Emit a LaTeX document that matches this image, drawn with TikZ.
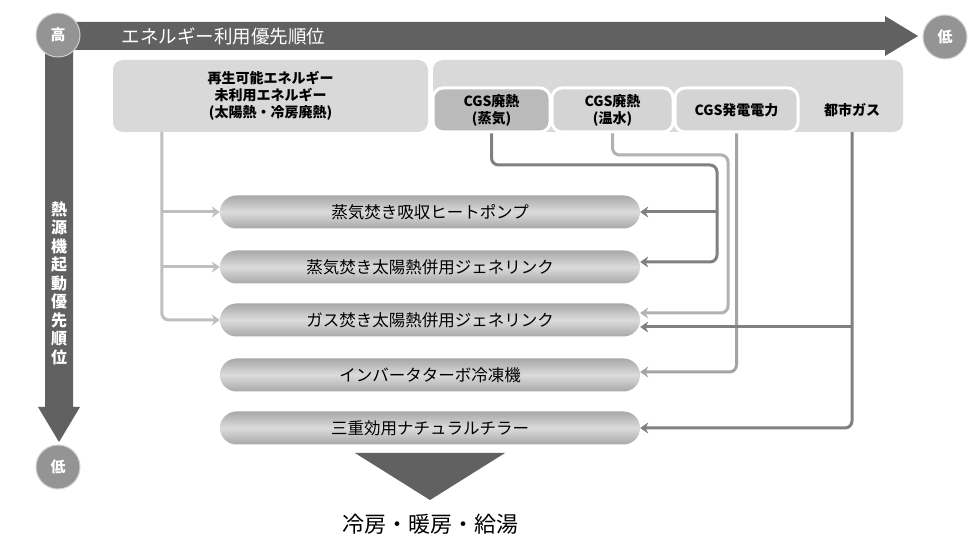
\documentclass[tikz,border=0pt]{standalone}
\usepackage{fontspec}
\setmainfont{Noto Sans CJK JP}
\usetikzlibrary{arrows.meta}
\begin{document}
\begin{tikzpicture}[x=1pt,y=-1pt,
  darkc/.style={fill=black!62},
  badge/.style={circle, fill=black!42, draw=black!18, line width=1pt, minimum size=44pt, inner sep=0pt, text=white, font=\bfseries\fontsize{15}{15}\selectfont},
  srcbox/.style={rectangle, rounded corners=10pt, fill=black!15, align=center, inner sep=0pt, font=\bfseries\fontsize{14}{17}\selectfont},
  cgsbox/.style={srcbox, draw=white, line width=3pt, minimum height=44pt},
  pill/.style={rectangle, rounded corners=16.5pt, minimum width=420pt, minimum height=33pt, inner sep=0pt, top color=black!34, bottom color=black!34, middle color=black!14, font=\fontsize{16.5}{16.5}\selectfont},
  conn/.style={line width=3pt, rounded corners=7pt, -{Stealth[length=8pt,width=11pt]}},
]
\useasboundingbox (0,0) rectangle (970,545);
\fill[white] (0,0) rectangle (970,545);

% priority arrows
\fill[darkc] (45,36) -- (73,36) -- (73,407) -- (80,407) -- (59,442) -- (38,407) -- (45,407) -- cycle;
\fill[darkc] (58,22) -- (885,22) -- (885,16) -- (918,36) -- (885,56) -- (885,50) -- (58,50) -- cycle;
\node[anchor=west, text=white, font=\fontsize{18.5}{18.5}\selectfont] (htext) at (118,36) {エネルギー利用優先順位};
\node[text=white, align=center, font=\bfseries\fontsize{16}{18.5}\selectfont] (vtext) at (59,283) {熱\\源\\機\\起\\動\\優\\先\\順\\位};
\node[badge] (hi) at (58,35) {高};
\node[badge] (lor) at (945,37) {低};
\node[badge] (lob) at (58,467) {低};

% energy sources
\node[srcbox, minimum width=315pt, minimum height=72pt] (ren) at (270.5,96) {再生可能エネルギー\\未利用エネルギー\\(太陽熱・冷房廃熱)};
\fill[black!15, rounded corners=10pt] (433,60) rectangle (903,132);
\node[cgsbox, fill=black!27, minimum width=117pt] (steam) at (491.5,110) {CGS廃熱\\(蒸気)};
\node[cgsbox, fill=black!17, minimum width=121pt] (hot) at (612.5,110) {CGS廃熱\\(温水)};
\node[cgsbox, fill=black!17, minimum width=123pt] (pow) at (736.5,110) {CGS発電電力};
\node[srcbox, fill=none, minimum height=44pt] (gas) at (852,110) {都市ガス};

% machines
\node[pill] (p1) at (430,212) {蒸気焚き吸収ヒートポンプ};
\node[pill] (p2) at (430,267) {蒸気焚き太陽熱併用ジェネリンク};
\node[pill] (p3) at (430,320) {ガス焚き太陽熱併用ジェネリンク};
\node[pill] (p4) at (430,375) {インバータターボ冷凍機};
\node[pill] (p5) at (430,428) {三重効用ナチュラルチラー};

% output
\fill[darkc] (355,453) -- (505,453) -- (430,500) -- cycle;
\node[font=\fontsize{22}{22}\selectfont] (use) at (430,524) {冷房・暖房・給湯};

% connectors
\coordinate (lb) at ([xshift=49pt]ren.south west);
\draw[conn, draw=black!25] (lb) |- (p3.west);
\draw[conn, draw=black!25] (lb |- p1.west) -- (p1.west);
\draw[conn, draw=black!25] (lb |- p2.west) -- (p2.west);

\coordinate (sv) at (717,165);
\coordinate (p2in) at ([yshift=5pt]p2.east);
\draw[conn, draw=black!50] (steam.south) |- (sv) |- (p2in);
\draw[conn, draw=black!50] (sv |- p1.east) -- (p1.east);

\coordinate (hv) at (728,155);
\coordinate (p3a) at ([yshift=7pt]p3.east);
\draw[conn, draw=black!30] (hot.south) |- (hv) |- (p3a);

\coordinate (p4in) at ([yshift=3pt]p4.east);
\draw[conn, draw=black!36] (pow.south) |- (p4in);

\coordinate (p3b) at ([yshift=-7pt]p3.east);
\draw[conn, draw=black!50] (gas.south) |- (p5.east);
\draw[conn, draw=black!50] (gas.south |- p3b) -- (p3b);
\end{tikzpicture}
\end{document}
